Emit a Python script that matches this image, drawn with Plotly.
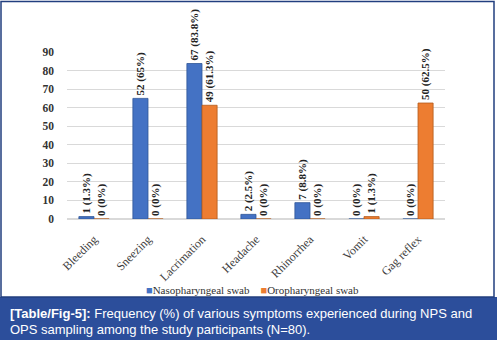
import plotly.graph_objects as go

categories = ["Bleeding", "Sneezing", "Lacrimation", "Headache", "Rhinorrhea", "Vomit", "Gag reflex"]
nps_counts = [1, 52, 67, 2, 7, 0, 0]
nps_pct = [1.3, 65, 83.8, 2.5, 8.8, 0, 0]
ops_counts = [0, 0, 49, 0, 0, 1, 50]
ops_pct = [0, 0, 61.3, 0, 0, 1.3, 62.5]
y_ticks = [0, 10, 20, 30, 40, 50, 60, 70, 80, 90]
series_names = ["Nasopharyngeal swab", "Oropharyngeal swab"]
series_colors = ["#4472C4", "#ED7D31"]

def fmt(c, p):
    ps = ("%g" % p)
    return f"{c} ({ps}%)"

W, H = 497, 340
L, R = 67, 445      # plot area x in px
T, B = 52, 219      # plot area y in px

def px(x):
    return (x - L) / (R - L)

def py(y):
    return (B - y) / (B - T)

serif = "Liberation Serif, Times New Roman, serif"
sans = "Liberation Sans, Arial, sans-serif"

fig = go.Figure()
for name, color, edge, counts, pcts in [
    (series_names[0], series_colors[0], "#2F5597", nps_counts, nps_pct),
    (series_names[1], series_colors[1], "#B45A1C", ops_counts, ops_pct),
]:
    fig.add_trace(go.Bar(
        x=categories, y=pcts, name=name,
        marker=dict(color=color, line=dict(color=edge, width=0.8)),
        text=[fmt(c, p) for c, p in zip(counts, pcts)],
        textposition="outside", textangle=-90, cliponaxis=False,
        constraintext="none",
        textfont=dict(family=serif, size=11, color="#222222", weight="bold"),
        showlegend=False,
    ))

legend_text = (f'<span style="color:{series_colors[0]}">■</span>{series_names[0]}'
               f'&nbsp;&nbsp;&nbsp;&nbsp;<span style="color:{series_colors[1]}">■</span>{series_names[1]}')

fig.update_layout(
    width=W, height=H,
    margin=dict(l=L, r=W - R, t=T, b=H - B, pad=0),
    paper_bgcolor="white", plot_bgcolor="white",
    barmode="group", bargap=0.44, bargroupgap=0,
    xaxis=dict(tickangle=-45, tickfont=dict(family=serif, size=12, color="#404040"),
               showline=False, ticks="", showgrid=False, ticklabelstandoff=10),
    yaxis=dict(range=[0, 90], tickvals=y_ticks, showgrid=True, gridcolor="#d9d9d9",
               gridwidth=1, zeroline=True, zerolinecolor="#d9d9d9", showline=False,
               tickfont=dict(family=serif, size=11.5, color="#333333", weight="bold"),
               ticklabelstandoff=12),
    shapes=[
        dict(type="rect", xref="paper", yref="paper", x0=px(-2), x1=px(W + 2), y0=py(H + 2), y1=py(297),
             fillcolor="#2C4E9B", line=dict(width=0), layer="above"),
        dict(type="rect", xref="paper", yref="paper", x0=px(1), x1=px(494), y0=py(297), y1=py(1.5),
             fillcolor="rgba(0,0,0,0)", line=dict(color="#223F7F", width=1.5), layer="above"),
    ],
    annotations=[
        dict(xref="paper", yref="paper", x=px(252), y=py(290), xanchor="center", yanchor="middle",
             showarrow=False, text=legend_text,
             font=dict(family=serif, size=11, color="#333333")),
        dict(xref="paper", yref="paper", x=px(8), y=py(313), xanchor="left", yanchor="middle",
             showarrow=False, align="left",
             text="<b>[Table/Fig-5]:</b> Frequency (%) of various symptoms experienced during NPS and",
             font=dict(family=sans, size=13, color="white")),
        dict(xref="paper", yref="paper", x=px(8), y=py(329), xanchor="left", yanchor="middle",
             showarrow=False, align="left",
             text="OPS sampling among the study participants (N=80).",
             font=dict(family=sans, size=13, color="white")),
    ],
)

fig.write_html("out.html")
